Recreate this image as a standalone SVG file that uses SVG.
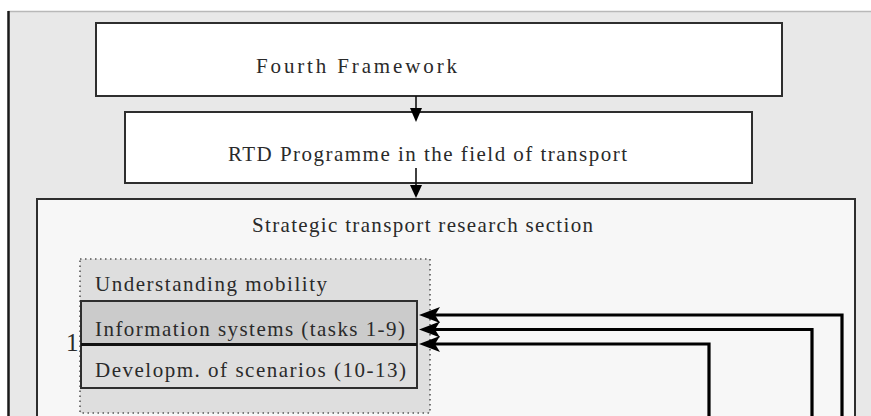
<svg xmlns="http://www.w3.org/2000/svg" width="871" height="416" viewBox="0 0 871 416">
  <style>
    text { font-family: "Liberation Serif", "Times New Roman", serif; font-size: 21px; fill: #2a2a2a; }
    .box { stroke: #2e2e2e; stroke-width: 2; }
    .conn { fill: none; stroke: #000; stroke-width: 3.2; }
    .down { fill: none; stroke: #111; stroke-width: 1.6; }
  </style>
  <defs>
    <marker id="arrL" markerUnits="userSpaceOnUse" markerWidth="24" markerHeight="18" refX="10" refY="8" orient="auto" viewBox="0 0 24 18">
      <path d="M0,0 L21,8 L0,16 L5,8 Z" fill="#000"/>
    </marker>
  </defs>

  <rect id="page" x="9" y="11" width="862" height="405" fill="#e8e8e8"/>
  <line x1="8" y1="11.5" x2="871" y2="11.5" stroke="#b8b8b8" stroke-width="1.5"/>
  <line x1="8.5" y1="11" x2="8.5" y2="416" stroke="#1a1a1a" stroke-width="2.5"/>

  <g id="fourth-framework">
    <rect class="box" x="96" y="23" width="686" height="73" fill="#ffffff"/>
    <text x="256" y="73" textLength="201" lengthAdjust="spacing">Fourth Framework</text>
  </g>

  <g id="rtd-programme">
    <rect class="box" x="125" y="112" width="627" height="71" fill="#ffffff"/>
    <text x="228" y="161" textLength="399" lengthAdjust="spacing">RTD Programme in the field of transport</text>
  </g>

  <g id="strategic-section">
    <rect class="box" x="37" y="199" width="818" height="230" fill="#f7f7f7"/>
    <text x="252" y="232" textLength="341" lengthAdjust="spacing">Strategic transport research section</text>
  </g>

  <g id="understanding-mobility">
    <rect x="80" y="259" width="350" height="154" fill="#dedede" stroke="#555" stroke-width="1.6" stroke-dasharray="1.5 3.5"/>
    <text x="95" y="291" textLength="232" lengthAdjust="spacing">Understanding mobility</text>
    <text x="66" y="351" style="font-size:25px">1</text>
  </g>

  <g id="information-systems">
    <rect class="box" x="81" y="301" width="336" height="43.5" fill="#cbcbcb"/>
    <text x="95" y="336" textLength="310" lengthAdjust="spacing">Information systems (tasks 1-9)</text>
  </g>

  <g id="scenarios">
    <rect class="box" x="81" y="344.5" width="336" height="43.5" fill="#dedede"/>
    <line x1="81" y1="344.5" x2="417" y2="344.5" stroke="#111" stroke-width="3"/>
    <text x="95" y="377" textLength="311" lengthAdjust="spacing">Developm. of scenarios (10-13)</text>
  </g>

  <g id="connectors">
    <line class="down" x1="416" y1="96" x2="416" y2="110"/>
    <path d="M410,108 L422,108 L416,122 Z" fill="#000"/>
    <line class="down" x1="416" y1="168" x2="416" y2="186"/>
    <path d="M410,185 L422,185 L416,198 Z" fill="#000"/>

    <path class="conn" d="M842,416 L842,315 L430,315" marker-end="url(#arrL)"/>
    <path class="conn" d="M812,416 L812,329.5 L430,329.5" marker-end="url(#arrL)"/>
    <path class="conn" d="M709,416 L709,344 L430,344" marker-end="url(#arrL)"/>
  </g>
</svg>
